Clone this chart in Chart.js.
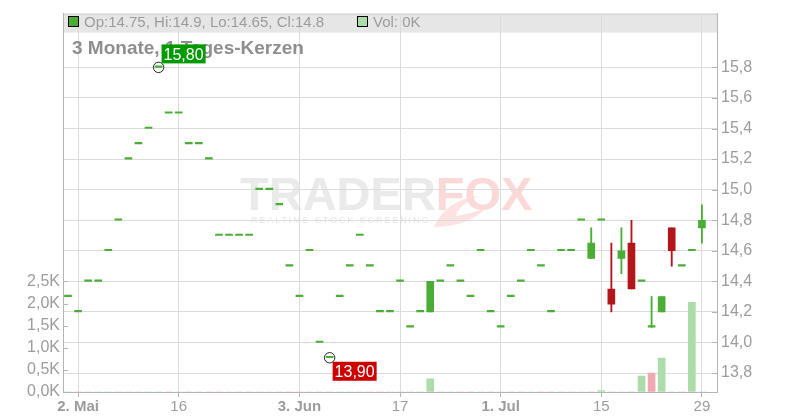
<!DOCTYPE html>
<html>
<head>
<meta charset="utf-8">
<script src="https://cdn.jsdelivr.net/npm/chart.js@4.4.1/dist/chart.umd.min.js"></script>
<style>
  html, body { margin: 0; padding: 0; background: #fff; }
  canvas { display: block; }
</style>
</head>
<body>
<canvas id="chart" width="800" height="420"></canvas>
<script>
// Handelstage 30.04. - 29.07.
const dates = [
  '30.04.', '02.05.', '03.05.', '06.05.', '07.05.', '08.05.', '09.05.', '10.05.', '13.05.', '14.05.',
  '15.05.', '16.05.', '17.05.', '20.05.', '21.05.', '22.05.', '23.05.', '24.05.', '27.05.', '28.05.',
  '29.05.', '30.05.', '31.05.', '03.06.', '04.06.', '05.06.', '06.06.', '07.06.', '10.06.', '11.06.',
  '12.06.', '13.06.', '14.06.', '17.06.', '18.06.', '19.06.', '20.06.', '21.06.', '24.06.', '25.06.',
  '26.06.', '27.06.', '28.06.', '01.07.', '02.07.', '03.07.', '04.07.', '05.07.', '08.07.', '09.07.',
  '10.07.', '11.07.', '12.07.', '15.07.', '16.07.', '17.07.', '18.07.', '19.07.', '22.07.', '23.07.',
  '24.07.', '25.07.', '26.07.', '29.07.'
];
const opens = [
  14.3, 14.2, 14.4, 14.4, 14.6, 14.8, 15.2, 15.3, 15.4, 15.8,
  15.5, 15.5, 15.3, 15.3, 15.2, 14.7, 14.7, 14.7, 14.7, 15.0,
  15.0, 14.9, 14.5, 14.3, 14.6, 14.0, 13.9, 14.3, 14.5, 14.7,
  14.5, 14.2, 14.2, 14.4, 14.1, 14.2, 14.2, 14.4, 14.5, 14.4,
  14.3, 14.6, 14.2, 14.1, 14.3, 14.4, 14.6, 14.5, 14.2, 14.6,
  14.6, 14.8, 14.55, 14.8, 14.35, 14.55, 14.65, 14.4, 14.1, 14.2,
  14.75, 14.5, 14.6, 14.75
];
const highs = [
  14.3, 14.2, 14.4, 14.4, 14.6, 14.8, 15.2, 15.3, 15.4, 15.8,
  15.5, 15.5, 15.3, 15.3, 15.2, 14.7, 14.7, 14.7, 14.7, 15.0,
  15.0, 14.9, 14.5, 14.3, 14.6, 14.0, 13.9, 14.3, 14.5, 14.7,
  14.5, 14.2, 14.2, 14.4, 14.1, 14.2, 14.4, 14.4, 14.5, 14.4,
  14.3, 14.6, 14.2, 14.1, 14.3, 14.4, 14.6, 14.5, 14.2, 14.6,
  14.6, 14.8, 14.75, 14.8, 14.65, 14.75, 14.8, 14.4, 14.3, 14.3,
  14.75, 14.5, 14.6, 14.9
];
const lows = [
  14.3, 14.2, 14.4, 14.4, 14.6, 14.8, 15.2, 15.3, 15.4, 15.8,
  15.5, 15.5, 15.3, 15.3, 15.2, 14.7, 14.7, 14.7, 14.7, 15.0,
  15.0, 14.9, 14.5, 14.3, 14.6, 14.0, 13.9, 14.3, 14.5, 14.7,
  14.5, 14.2, 14.2, 14.4, 14.1, 14.2, 14.2, 14.4, 14.5, 14.4,
  14.3, 14.6, 14.2, 14.1, 14.3, 14.4, 14.6, 14.5, 14.2, 14.6,
  14.6, 14.8, 14.55, 14.8, 14.2, 14.45, 14.35, 14.4, 14.1, 14.2,
  14.5, 14.5, 14.6, 14.65
];
const closes = [
  14.3, 14.2, 14.4, 14.4, 14.6, 14.8, 15.2, 15.3, 15.4, 15.8,
  15.5, 15.5, 15.3, 15.3, 15.2, 14.7, 14.7, 14.7, 14.7, 15.0,
  15.0, 14.9, 14.5, 14.3, 14.6, 14.0, 13.9, 14.3, 14.5, 14.7,
  14.5, 14.2, 14.2, 14.4, 14.1, 14.2, 14.4, 14.4, 14.5, 14.4,
  14.3, 14.6, 14.2, 14.1, 14.3, 14.4, 14.6, 14.5, 14.2, 14.6,
  14.6, 14.8, 14.65, 14.8, 14.25, 14.6, 14.35, 14.4, 14.1, 14.3,
  14.6, 14.5, 14.6, 14.8
];
const volumes = [
  0, 0, 0, 0, 0, 0, 0, 0, 0, 0,
  0, 0, 0, 0, 0, 0, 0, 0, 0, 0,
  0, 0, 0, 0, 0, 0, 0, 0, 0, 0,
  0, 0, 0, 0, 0, 0, 300, 0, 0, 0,
  0, 0, 0, 0, 0, 0, 0, 0, 0, 0,
  0, 0, 0, 30, 0, 0, 0, 360, 430, 770,
  0, 0, 2030, 0
];

// Achsenbeschriftungen
const tickDates = ['02.05.', '16.05.', '03.06.', '17.06.', '01.07.', '15.07.', '29.07.'];
const tickLabels = ['2. Mai', '16', '3. Jun', '17', '1. Jul', '15', '29'];
const tickBold = [true, false, true, false, true, false, false];
const priceTicks = [13.8, 14.0, 14.2, 14.4, 14.6, 14.8, 15.0, 15.2, 15.4, 15.6, 15.8];
const volTicks = [0, 500, 1000, 1500, 2000, 2500];

const FONT = "'Liberation Sans', Arial, sans-serif";
const GREEN = '#4aad35';
const RED = '#b3161a';
const VOL_UP = '#acdca9';
const VOL_DOWN = '#f0a9b1';
const GRID = '#dcdcdc';
const AXIS = '#b4b4b4';
const TEXT = '#9c9c9c';

const candleColor = i => closes[i] >= opens[i] ? GREEN : RED;
const volColor = i => (i === 0 || closes[i] >= closes[i - 1]) ? VOL_UP : VOL_DOWN;
const fmt = (v, d) => v.toFixed(d).replace('.', ',');

const bodyData = dates.map((d, i) => ({ x: i, y: [opens[i], closes[i]] }));
const wickData = dates.map((d, i) => ({ x: i, y: highs[i] > lows[i] ? [lows[i], highs[i]] : null }));
const volData = dates.map((d, i) => ({ x: i, y: volumes[i] }));

// Hintergrund: Legendenleiste + Wasserzeichen
const backdrop = {
  id: 'backdrop',
  beforeDraw(chart) {
    const { ctx, chartArea: a } = chart;
    ctx.save();
    ctx.fillStyle = '#e6e6e6';
    ctx.fillRect(a.left, a.top, a.right - a.left, 19);
    ctx.strokeStyle = '#cfcfcf';
    ctx.lineWidth = 1;
    ctx.beginPath();
    ctx.moveTo(a.left, a.top + 0.5);
    ctx.lineTo(a.right, a.top + 0.5);
    ctx.stroke();

    // Fuchsschweif unter "FOX"
    ctx.fillStyle = '#fde2e2';
    ctx.beginPath();
    ctx.moveTo(434, 227);
    ctx.quadraticCurveTo(446, 200, 478, 196);
    ctx.quadraticCurveTo(458, 206, 456, 216);
    ctx.quadraticCurveTo(470, 214, 486, 208);
    ctx.quadraticCurveTo(470, 226, 434, 227);
    ctx.fill();

    ctx.textBaseline = 'alphabetic';
    ctx.font = 'bold 47px ' + FONT;
    ctx.fillStyle = '#eaeaea';
    ctx.fillText('TRADER', 240, 210);
    const w = ctx.measureText('TRADER').width;
    ctx.fillStyle = '#fcd9d9';
    ctx.fillText('FOX', 240 + w, 210);
    ctx.font = '9px ' + FONT;
    ctx.letterSpacing = '1.9px';
    ctx.fillStyle = '#e6e6e6';
    ctx.fillText('REALTIME STOCK SCREENING', 251, 223);
    ctx.restore();
  }
};

// Titel, Legende, Hoch/Tief-Marken
const labels = {
  id: 'labels',
  beforeDatasetsDraw(chart) {
    const { ctx, chartArea: a } = chart;
    const n = dates.length - 1;
    ctx.save();
    ctx.fillStyle = GREEN;
    ctx.fillRect(a.left + 5.5, 16.5, 10, 10);
    ctx.strokeStyle = '#000';
    ctx.lineWidth = 1;
    ctx.strokeRect(a.left + 5.5, 16.5, 10, 10);
    ctx.font = '15px ' + FONT;
    ctx.fillStyle = TEXT;
    ctx.fillText('Op:' + opens[n] + ', Hi:' + highs[n] + ', Lo:' + lows[n] + ', Cl:' + closes[n], a.left + 21, 27);
    ctx.fillStyle = VOL_UP;
    ctx.fillRect(357.5, 16.5, 10, 10);
    ctx.strokeRect(357.5, 16.5, 10, 10);
    ctx.fillStyle = TEXT;
    ctx.fillText('Vol: ' + Math.round(volumes[n] / 1000) + 'K', 373, 27);

    ctx.font = 'bold 19px ' + FONT;
    ctx.fillStyle = '#8e8e8e';
    ctx.fillText('3 Monate, 1 Tages-Kerzen', a.left + 9, 54);
    ctx.restore();
  },
  afterDatasetsDraw(chart) {
    const { ctx } = chart;
    const xs = chart.scales.x, ys = chart.scales.y;
    const hiIdx = highs.indexOf(Math.max(...highs));
    const loIdx = lows.indexOf(Math.min(...lows));
    const marks = [
      { i: hiIdx, v: highs[hiIdx], bg: '#009a00', up: true },
      { i: loIdx, v: lows[loIdx], bg: '#cc0000', up: false }
    ];
    ctx.save();
    marks.forEach(m => {
      const cx = xs.getPixelForValue(m.i);
      const cy = ys.getPixelForValue(m.v);
      ctx.strokeStyle = '#222';
      ctx.lineWidth = 1;
      ctx.beginPath();
      ctx.arc(cx, cy, 5.2, 0, Math.PI * 2);
      ctx.stroke();
      const top = m.up ? cy - 23 : cy + 4;
      ctx.fillStyle = m.bg;
      ctx.fillRect(cx + 3, top, 44, 19);
      ctx.fillStyle = '#fff';
      ctx.font = '16px ' + FONT;
      ctx.textAlign = 'center';
      ctx.fillText(fmt(m.v, 2), cx + 25, top + 15.5);
    });
    ctx.restore();
  },
  afterDraw(chart) {
    const { ctx, chartArea: a } = chart;
    ctx.save();
    ctx.strokeStyle = AXIS;
    ctx.lineWidth = 1;
    ctx.beginPath();
    volTicks.forEach(v => {
      const y = Math.round(chart.scales.yVol.getPixelForValue(v)) + 0.5;
      ctx.moveTo(a.left, y);
      ctx.lineTo(a.left + 5, y);
    });
    priceTicks.forEach(v => {
      const y = Math.round(chart.scales.y.getPixelForValue(v)) + 0.5;
      ctx.moveTo(a.right - 5, y);
      ctx.lineTo(a.right, y);
    });
    ctx.stroke();
    ctx.restore();
  }
};

new Chart(document.getElementById('chart'), {
  type: 'bar',
  data: {
    datasets: [
      {
        label: 'Kerzen',
        data: bodyData,
        yAxisID: 'y',
        grouped: false,
        barThickness: 7,
        minBarLength: 1.5,
        backgroundColor: ctx => candleColor(ctx.dataIndex),
        order: 0
      },
      {
        label: 'Dochte',
        data: wickData,
        yAxisID: 'y',
        grouped: false,
        barThickness: 1.2,
        backgroundColor: ctx => candleColor(ctx.dataIndex),
        order: 1
      },
      {
        label: 'Volumen',
        data: volData,
        yAxisID: 'yVol',
        grouped: false,
        barThickness: 7,
        backgroundColor: ctx => volColor(ctx.dataIndex),
        order: 2
      }
    ]
  },
  options: {
    responsive: false,
    animation: false,
    layout: { padding: { top: 12, left: 0, right: 0, bottom: 0 } },
    plugins: {
      legend: { display: false },
      tooltip: { enabled: false }
    },
    scales: {
      x: {
        type: 'linear',
        position: 'bottom',
        min: -0.5,
        max: dates.length + 0.5,
        offset: false,
        afterBuildTicks: s => { s.ticks = tickDates.map(d => ({ value: dates.indexOf(d) })); },
        afterFit: s => { s.height = 28; },
        grid: { color: GRID, offset: false, tickLength: 5, tickColor: AXIS },
        border: { color: AXIS },
        ticks: {
          autoSkip: false,
          maxRotation: 0,
          padding: 1,
          color: TEXT,
          font: ctx => ({ family: FONT, size: 15, weight: tickBold[ctx.index] ? 'bold' : 'normal' }),
          callback: (v, i) => tickLabels[i]
        }
      },
      y: {
        type: 'linear',
        position: 'right',
        min: 13.676,
        max: 16.152,
        afterBuildTicks: s => { s.ticks = priceTicks.map(v => ({ value: v })); },
        afterFit: s => { s.width = 83; },
        grid: { color: GRID, drawTicks: false },
        border: { color: AXIS },
        ticks: {
          padding: 4,
          color: TEXT,
          font: { family: FONT, size: 16 },
          callback: v => fmt(v, 1)
        }
      },
      yVol: {
        type: 'linear',
        position: 'left',
        min: 0,
        max: 8559,
        afterBuildTicks: s => { s.ticks = volTicks.map(v => ({ value: v })); },
        afterFit: s => { s.width = 63; },
        grid: { drawOnChartArea: false, drawTicks: false },
        border: { color: AXIS },
        ticks: {
          padding: 3,
          color: TEXT,
          font: { family: FONT, size: 16 },
          callback: v => fmt(v / 1000, 1) + 'K'
        }
      }
    }
  },
  plugins: [backdrop, labels]
});
</script>
</body>
</html>
